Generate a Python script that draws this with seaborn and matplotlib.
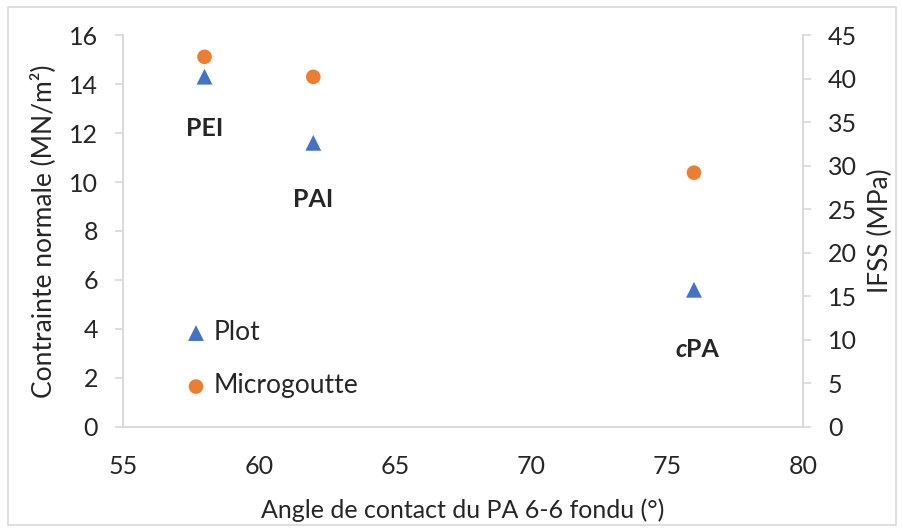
import matplotlib
matplotlib.use("Agg")
import matplotlib.pyplot as plt
from matplotlib.patches import Rectangle
import seaborn as sns
import pandas as pd

# Contact angle of molten PA 6-6 on each sizing (deg)
angle = [58, 62, 76]
sizing = ["PEI", "PAI", "cPA"]
# Normal stress from the pull-out (plot) test, MN/m²
plot_stress = [14.3, 11.6, 5.6]
# Interfacial shear strength from the microdroplet test, MPa
micro_ifss = [42.5, 40.2, 29.2]
# Label positions (left-axis units)
label_y = [12.2, 9.3, 3.15]

x_ticks = [55, 60, 65, 70, 75, 80]
left_ticks = [0, 2, 4, 6, 8, 10, 12, 14, 16]
right_ticks = [0, 5, 10, 15, 20, 25, 30, 35, 40, 45]

sns.set_theme(style="white")
plt.rcParams["font.family"] = ["Lato", "DejaVu Sans"]

blue = "#4472C4"
orange = "#ED7D31"
axis_grey = "#D9D9D9"
text_col = "#262626"

df = pd.DataFrame({"angle": angle, "plot": plot_stress, "micro": micro_ifss})

fig = plt.figure(figsize=(9.04, 5.31), dpi=100)
ax = fig.add_axes([0.136, 0.196, 0.752, 0.738])
ax2 = ax.twinx()

sns.scatterplot(data=df, x="angle", y="plot", ax=ax, marker="^", s=130,
                color=blue, edgecolor="none", label="Plot", legend=False)
sns.scatterplot(data=df, x="angle", y="micro", ax=ax2, marker="o", s=110,
                color=orange, edgecolor="none", label="Microgoutte", legend=False)

ax.set_xlim(55, 80)
ax.set_ylim(0, 16)
ax2.set_ylim(0, 45)
ax.set_xticks(x_ticks)
ax.set_yticks(left_ticks)
ax2.set_yticks(right_ticks)

for a in (ax, ax2):
    a.spines["top"].set_visible(False)
    for side in ("left", "right", "bottom"):
        a.spines[side].set_color(axis_grey)
        a.spines[side].set_linewidth(1.2)
    a.tick_params(axis="both", colors=axis_grey, labelcolor=text_col,
                  labelsize=18, length=6, width=1.2, direction="out")

ax.tick_params(axis="x", pad=14)
ax.tick_params(axis="y", pad=12)
ax2.tick_params(axis="y", pad=12)

ax.set_xlabel("Angle de contact du PA 6-6 fondu (°)", fontsize=18,
              color=text_col, labelpad=15)
ax.set_ylabel("Contrainte normale (MN/m²)", fontsize=19, color=text_col,
              labelpad=9)
ax2.set_ylabel("IFSS (MPa)", fontsize=19, color=text_col, labelpad=8)

for xv, yv, name in zip(angle, label_y, sizing):
    if name.startswith("c"):
        # italic "c" prefix followed by upright "PA", centred on the point
        ax.annotate("c", xy=(xv, yv), xytext=(-5.5, 0), textcoords="offset points",
                    fontsize=18, fontweight="bold", fontstyle="italic",
                    color=text_col, ha="right", va="center")
        ax.annotate("PA", xy=(xv, yv), xytext=(-5.5, 0), textcoords="offset points",
                    fontsize=18, fontweight="bold", color=text_col,
                    ha="left", va="center")
    else:
        ax.text(xv, yv, name, fontsize=18, fontweight="bold", color=text_col,
                ha="center", va="center")

h1, l1 = ax.get_legend_handles_labels()
h2, l2 = ax2.get_legend_handles_labels()
leg = ax.legend(h1 + h2, l1 + l2, loc="lower left", bbox_to_anchor=(0.057, 0.012),
                frameon=False, fontsize=19, handlelength=0.8, handletextpad=0.25,
                labelspacing=1.08, borderpad=0.4, labelcolor=text_col)

fig.add_artist(Rectangle((0.009, 0.012), 0.982, 0.975, transform=fig.transFigure,
                         fill=False, edgecolor=axis_grey, linewidth=1.2))

fig.savefig("out.png", dpi=100)
